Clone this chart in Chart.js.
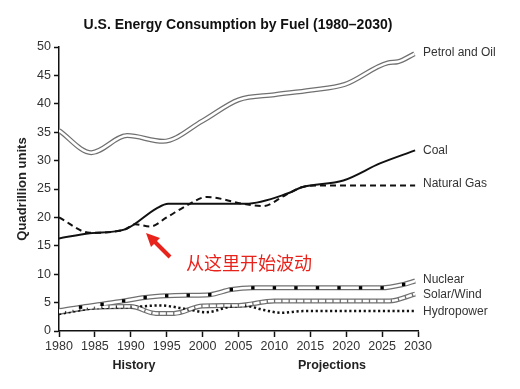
<!DOCTYPE html>
<html lang="en">
<head>
  <meta charset="UTF-8">
  <title>U.S. Energy Consumption by Fuel</title>
  <script src="https://cdn.jsdelivr.net/npm/chart.js"></script>
  <style>
    * { margin: 0; padding: 0; box-sizing: border-box; }
    body { background: #fff; }
    .chart-box { position: relative; width: 520px; height: 389px; }
  </style>
</head>
<body>
  <div class="chart-box">
    <canvas id="energyChart"></canvas>
  </div>

  <script>
    // values (quadrillion units)
    const petrolYears = [1980, 1984.5, 1989.5, 1994.5, 2000, 2005, 2010, 2015, 2019.8, 2025.8, 2027.2, 2029.5];
    const petrolValues = [35.3, 31.4, 34.4, 33.4, 37.0, 40.7, 41.6, 42.4, 43.4, 47.2, 47.4, 48.8];

    const coalYears = [1980, 1984.3, 1989.2, 1993.6, 1995.2, 2006, 2011.8, 2013.8, 2019.6, 2024.7, 2029.6];
    const coalValues = [16.3, 17.2, 17.9, 21.6, 22.4, 22.4, 24.2, 25.3, 26.5, 29.5, 31.8];

    const gasYears = [1980, 1984.3, 1989.2, 1990.6, 1992.7, 1995, 1997.8, 2000.6, 2005.6, 2008.4, 2011.5, 2013.8, 2016, 2029.6];
    const gasValues = [20.0, 17.3, 17.9, 18.8, 18.4, 20.0, 22.1, 23.6, 22.4, 22.0, 23.9, 25.3, 25.6, 25.6];

    const nuclearYears = [1980, 1983, 1986, 1989, 1992, 1995, 1998, 2001, 2004, 2007, 2010, 2013, 2016, 2019, 2022, 2025, 2028, 2029.6];
    const nuclearValues = [3.6, 4.2, 4.7, 5.3, 5.9, 6.2, 6.3, 6.4, 7.3, 7.6, 7.6, 7.6, 7.6, 7.6, 7.6, 7.6, 8.2, 8.8];

    const solarYears = [1980, 1985, 1990, 1993.5, 1996, 2000, 2005, 2010, 2026, 2029.6];
    const solarValues = [3.3, 4.2, 4.3, 3.1, 3.1, 4.4, 4.5, 5.3, 5.3, 6.5];

    const hydroYears = [1980, 1985, 1990, 1994, 1998, 2000.5, 2004, 2006, 2008.5, 2011, 2014, 2029.6];
    const hydroValues = [3.0, 4.0, 4.2, 4.5, 3.8, 3.3, 4.3, 4.4, 3.7, 3.2, 3.5, 3.5];

    const xTicks = [1980, 1985, 1990, 1995, 2000, 2005, 2010, 2015, 2020, 2025, 2030];
    const yTicks = [0, 5, 10, 15, 20, 25, 30, 35, 40, 45, 50];

    const seriesLabels = ['Petrol and Oil', 'Coal', 'Natural Gas', 'Nuclear', 'Solar/Wind', 'Hydropower'];

    const FONT = '"Liberation Sans", Arial, sans-serif';

    function pts(xs, ys) {
      return xs.map((x, i) => ({ x: x, y: ys[i] }));
    }

    // helper for the "double line" look (grey outline, white core)
    function outline(xs, ys, order) {
      return {
        data: pts(xs, ys),
        borderColor: '#707070',
        borderWidth: 5,
        pointRadius: 0,
        cubicInterpolationMode: 'monotone',
        order: order
      };
    }

    // labels, y title, History/Projections and the red note
    const textPlugin = {
      id: 'texts',
      afterDraw(chart) {
        const ctx = chart.ctx;
        const y = chart.scales.y;
        ctx.save();

        ctx.fillStyle = '#111';
        ctx.font = 'bold 14px ' + FONT;
        ctx.textAlign = 'center';
        ctx.textBaseline = 'middle';
        ctx.fillText('U.S. Energy Consumption by Fuel (1980\u20132030)', 238, 25);

        ctx.font = '12px ' + FONT;
        ctx.fillStyle = '#333';
        ctx.textAlign = 'left';
        const labelY = [53, 151, 184, 280, 295, 312];
        seriesLabels.forEach((t, i) => ctx.fillText(t, 423, labelY[i]));

        ctx.font = 'bold 12.5px ' + FONT;
        ctx.textAlign = 'center';
        ctx.fillStyle = '#222';
        ctx.fillText('History', 134, 366);
        ctx.fillText('Projections', 332, 366);

        ctx.save();
        ctx.translate(22, (y.top + y.bottom) / 2);
        ctx.rotate(-Math.PI / 2);
        ctx.font = 'bold 13px ' + FONT;
        ctx.fillText('Quadrillion units', 0, 0);
        ctx.restore();

        // red arrow + note
        ctx.strokeStyle = '#e8231c';
        ctx.fillStyle = '#e8231c';
        ctx.lineWidth = 4;
        ctx.beginPath();
        ctx.moveTo(170, 257);
        ctx.lineTo(154, 241);
        ctx.stroke();
        ctx.beginPath();
        ctx.moveTo(146, 233);
        ctx.lineTo(160, 238);
        ctx.lineTo(151, 247);
        ctx.closePath();
        ctx.fill();

        ctx.font = '18px "Noto Sans CJK SC", sans-serif';
        ctx.textAlign = 'left';
        ctx.fillText('从这里开始波动', 186, 263);

        ctx.restore();
      }
    };

    const ctx = document.getElementById('energyChart').getContext('2d');
    new Chart(ctx, {
      type: 'line',
      data: {
        datasets: [
          // white cores on top
          {
            data: pts(petrolYears, petrolValues),
            borderColor: '#fff', borderWidth: 2.5, pointRadius: 0,
            cubicInterpolationMode: 'monotone', order: 0
          },
          {
            data: pts(nuclearYears, nuclearValues),
            borderColor: '#fff', borderWidth: 2.5,
            pointStyle: 'rect',
            pointRadius: nuclearYears.map((yr, i) => (i === 0 || i === nuclearYears.length - 1) ? 0 : 2.4),
            pointBackgroundColor: '#000', pointBorderWidth: 0,
            cubicInterpolationMode: 'monotone', order: 0
          },
          {
            data: pts(solarYears, solarValues),
            borderColor: '#fff', borderWidth: 2.5, pointRadius: 0,
            borderDash: [6, 1.3],
            cubicInterpolationMode: 'monotone', order: 0
          },
          {
            data: pts(hydroYears, hydroValues),
            borderColor: '#111', borderWidth: 2.5, pointRadius: 0,
            borderDash: [2.2, 2.6],
            cubicInterpolationMode: 'monotone', order: 0
          },
          {
            data: pts(coalYears, coalValues),
            borderColor: '#111', borderWidth: 2, pointRadius: 0,
            cubicInterpolationMode: 'monotone', order: 0
          },
          {
            data: pts(gasYears, gasValues),
            borderColor: '#111', borderWidth: 2, pointRadius: 0,
            borderDash: [6, 4],
            cubicInterpolationMode: 'monotone', order: 0
          },
          outline(petrolYears, petrolValues, 1),
          outline(nuclearYears, nuclearValues, 1),
          outline(solarYears, solarValues, 1)
        ]
      },
      options: {
        responsive: true,
        maintainAspectRatio: false,
        animation: false,
        layout: { padding: { top: 47, right: 102, bottom: 38, left: 0 } },
        plugins: {
          legend: { display: false },
          tooltip: { enabled: false },
          title: { display: false }
        },
        scales: {
          x: {
            type: 'linear',
            min: 1980,
            max: 2030,
            afterBuildTicks: (s) => { s.ticks = xTicks.map(v => ({ value: v })); },
            afterFit: (s) => { s.height = 20; },
            ticks: {
              color: '#333',
              font: { family: FONT, size: 12.5 },
              padding: 2,
              maxRotation: 0,
              callback: (v) => String(v)
            },
            grid: { drawOnChartArea: false, color: '#111', tickLength: 6, tickWidth: 1.5 },
            border: { color: '#111', width: 1.5 }
          },
          y: {
            min: 0,
            max: 50,
            afterBuildTicks: (s) => { s.ticks = yTicks.map(v => ({ value: v })); },
            afterFit: (s) => { s.width = 59; },
            ticks: {
              color: '#333',
              font: { family: FONT, size: 12.5 },
              padding: 3
            },
            grid: { drawOnChartArea: false, color: '#111', tickLength: 5, tickWidth: 1.5 },
            border: { color: '#111', width: 1.5 }
          }
        }
      },
      plugins: [textPlugin]
    });
  </script>
</body>
</html>
